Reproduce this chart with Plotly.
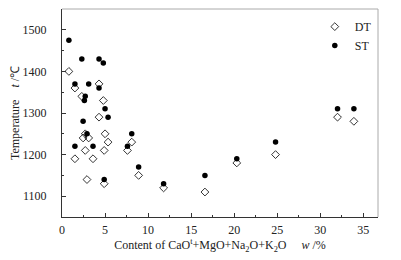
import plotly.graph_objects as go

# DT (deformation temperature) - open diamonds
dt_x = [0.8, 1.5, 2.3, 4.3, 4.8, 4.3, 2.7, 2.45, 3.1, 5.0, 5.35, 2.7, 4.9, 1.5, 3.6, 7.6, 2.9, 4.9, 8.1, 8.9, 11.8, 16.6, 20.3, 24.8, 32.0, 33.9]
dt_y = [1400, 1360, 1340, 1370, 1330, 1290, 1250, 1240, 1240, 1250, 1230, 1210, 1210, 1190, 1190, 1210, 1140, 1130, 1230, 1150, 1120, 1110, 1180, 1200, 1290, 1280]

# ST (softening temperature) - filled circles
st_x = [0.8, 2.3, 4.3, 4.8, 1.5, 3.1, 4.3, 2.7, 2.6, 5.0, 5.35, 2.45, 2.9, 1.5, 3.6, 7.6, 4.9, 8.1, 8.9, 11.8, 16.6, 20.3, 24.8, 32.0, 33.9]
st_y = [1475, 1430, 1430, 1420, 1370, 1370, 1360, 1340, 1330, 1310, 1290, 1280, 1250, 1220, 1220, 1220, 1140, 1250, 1170, 1130, 1150, 1190, 1230, 1310, 1310]

x_ticks = [0, 5, 10, 15, 20, 25, 30, 35]
y_ticks = [1100, 1200, 1300, 1400, 1500]

font = "Liberation Serif, Times New Roman, serif"

fig = go.Figure()
fig.add_trace(go.Scatter(
    x=dt_x, y=dt_y, mode="markers", name="DT",
    marker=dict(symbol="diamond-open", size=6, color="black", line=dict(width=0.8, color="black")),
))
fig.add_trace(go.Scatter(
    x=st_x, y=st_y, mode="markers", name="ST",
    marker=dict(symbol="circle", size=5.5, color="black"),
))

axis_common = dict(
    showgrid=False, zeroline=False, showline=True, linecolor="#333", linewidth=1,
    ticks="inside", ticklen=4, tickcolor="#333", tickwidth=1,
    tickfont=dict(family=font, size=12, color="#222"),
    automargin=False,
)

fig.update_xaxes(
    range=[0, 36.7], tickvals=x_ticks, ticktext=[str(v) for v in x_ticks],
    minor=dict(ticks="inside", ticklen=2, dtick=2.5, tickcolor="#333"),
    ticklabelstandoff=2,
    title=dict(text="Content of CaO<sup>t</sup>+MgO+Na<sub>2</sub>O+K<sub>2</sub>O\u00a0\u00a0\u00a0\u00a0\u00a0<i>w</i> /%",
               font=dict(family=font, size=12, color="#222"), standoff=3),
    **axis_common,
)
fig.update_yaxes(
    range=[1050, 1550], tickvals=y_ticks, ticktext=[str(v) for v in y_ticks],
    minor=dict(ticks="inside", ticklen=2, dtick=50, tickcolor="#333"),
    ticklabelstandoff=12,
    title=dict(text="Temperature\u00a0\u00a0\u00a0\u00a0<i>t</i> /\u2103",
               font=dict(family=font, size=12, color="#222"), standoff=0),
    **axis_common,
)

# gray top and right frame lines
fig.add_shape(type="line", xref="paper", yref="paper", x0=0, x1=1, y0=1, y1=1, line=dict(color="#aaa", width=1))
fig.add_shape(type="line", xref="paper", yref="paper", x0=1, x1=1, y0=0, y1=1, line=dict(color="#aaa", width=1))

fig.update_layout(
    width=393, height=252,
    margin=dict(l=54, r=23, t=1, b=43),
    paper_bgcolor="white", plot_bgcolor="white",
    showlegend=True,
    legend=dict(x=0.80, y=0.985, xanchor="left", yanchor="top", bgcolor="rgba(0,0,0,0)",
                font=dict(family=font, size=12, color="#222"), itemwidth=30,
                tracegroupgap=0),
)

fig.write_html("out.html")
